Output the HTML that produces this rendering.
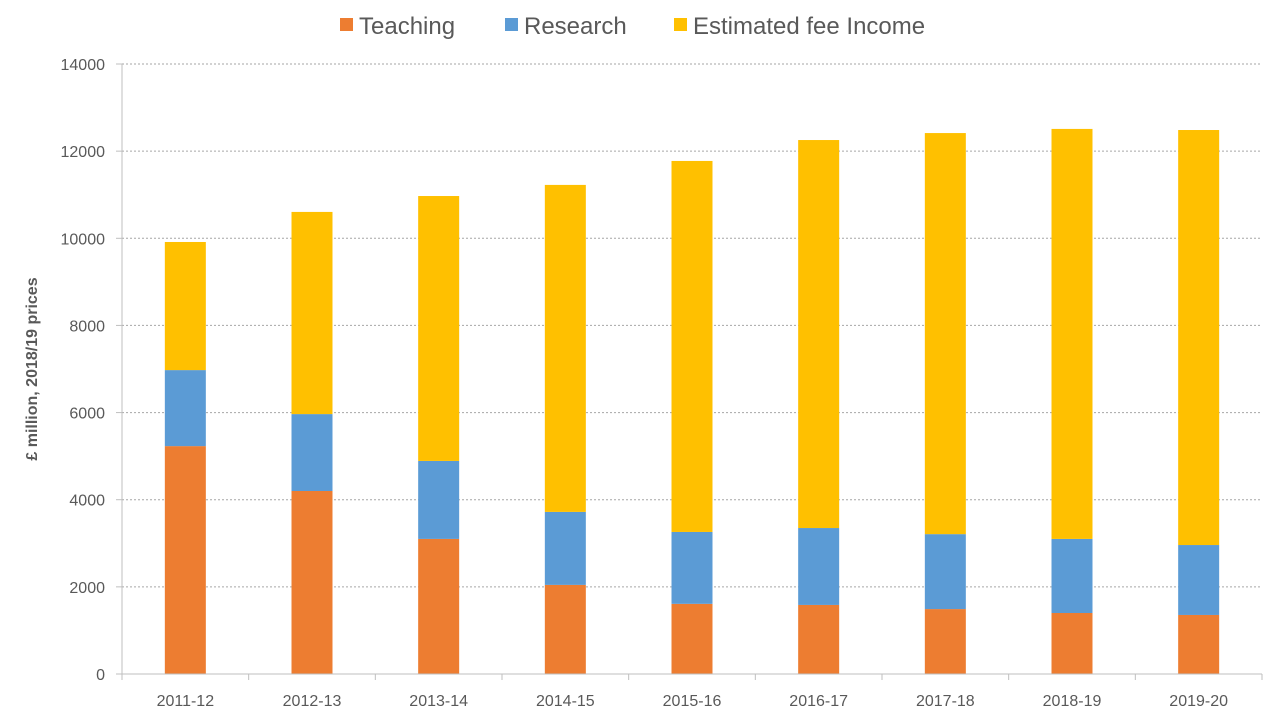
<!DOCTYPE html>
<html><head><meta charset="utf-8"><style>
body{margin:0;background:#fff;font-family:"Liberation Sans",Arial,sans-serif}
svg text{font-family:"Liberation Sans",Arial,sans-serif}
</style></head><body>
<svg id="chart" width="1280" height="720">
<g id="legend">
 <g><rect x="340" y="18" width="13" height="13" fill="#ED7D31"/><text x="359" y="34" font-size="24" fill="#595959">Teaching</text></g>
 <g><rect x="505" y="18" width="13" height="13" fill="#5B9BD5"/><text x="524" y="34" font-size="24" fill="#595959">Research</text></g>
 <g><rect x="674" y="18" width="13" height="13" fill="#FFC000"/><text x="693" y="34" font-size="24" fill="#595959">Estimated fee Income</text></g>
</g>
<text transform="translate(37,369) rotate(-90)" text-anchor="middle" font-size="16" font-weight="bold" fill="#595959">£ million,  2018/19 prices</text>
<g id="grid"></g><g id="bars"></g><g id="axes"></g>
</svg>
<script>
const categories=["2011-12","2012-13","2013-14","2014-15","2015-16","2016-17","2017-18","2018-19","2019-20"];
const teaching=[5230,4200,3100,2045,1610,1585,1490,1400,1355];
const research=[1745,1765,1790,1675,1650,1765,1720,1700,1605];
const feeIncome=[2940,4640,6080,7505,8515,8905,9205,9410,9525];
const yTicks=[0,2000,4000,6000,8000,10000,12000,14000];
const L=122,R=1262,T=64,B=674,yMax=14000;
const NS="http://www.w3.org/2000/svg";
const y=v=>B-(v/yMax)*(B-T);
const slot=(R-L)/categories.length;
const xc=i=>L+slot*(i+0.5);
const bw=41;
function mk(tag,attrs,parent){const e=document.createElementNS(NS,tag);for(const k in attrs)e.setAttribute(k,attrs[k]);parent.appendChild(e);return e;}
const grid=document.getElementById('grid'),bars=document.getElementById('bars'),axes=document.getElementById('axes');
yTicks.forEach(t=>{
 if(t>0){const g=mk('line',{x1:L,x2:R,y1:y(t),y2:y(t),stroke:'#A6A6A6','stroke-dasharray':'2,2','stroke-width':1},grid);
 
 }
 const tx=mk('text',{x:L-17,y:y(t)+6,'text-anchor':'end','font-size':16,fill:'#595959'},axes);tx.textContent=t;
 
 
});
const series=[[teaching,'#ED7D31','teaching'],[research,'#5B9BD5','research'],[feeIncome,'#FFC000','fee-income']];
categories.forEach((c,i)=>{
 let base=0;
 series.forEach(([arr,col,nm])=>{
  const v=arr[i];
  const r=mk('rect',{x:xc(i)-bw/2,y:y(base+v),width:bw,height:y(base)-y(base+v),fill:col},bars);
  
  
  base+=v;
 });
 const tx=mk('text',{x:xc(i),y:B+32,'text-anchor':'middle','font-size':16,fill:'#595959'},axes);tx.textContent=c;
 
 
 const tk=mk('line',{x1:L+slot*(i+1),x2:L+slot*(i+1),y1:B,y2:B+6,stroke:'#BFBFBF'},axes);
 
 
});
const xa=mk('line',{x1:L,x2:R,y1:B,y2:B,stroke:'#BFBFBF'},axes);


const ya=mk('line',{x1:L,x2:L,y1:T,y2:B,stroke:'#BFBFBF'},axes);


yTicks.forEach(t=>{const k=mk('line',{x1:L-6,x2:L,y1:y(t),y2:y(t),stroke:'#BFBFBF'},axes);
 
 });
const t0=mk('line',{x1:L,x2:L,y1:B,y2:B+6,stroke:'#BFBFBF'},axes);


</script>
</body></html>
